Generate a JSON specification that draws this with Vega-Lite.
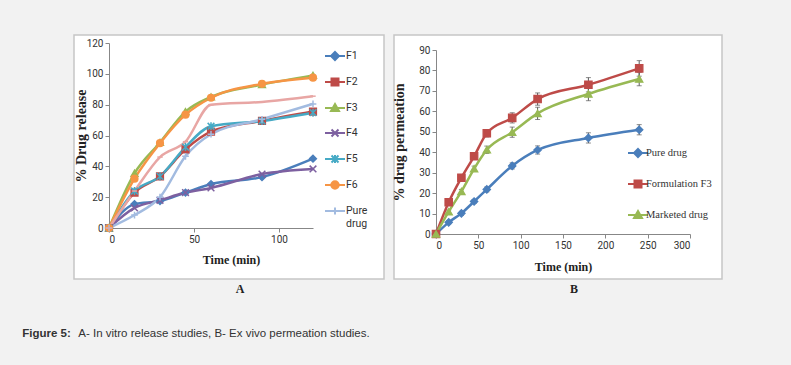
{
  "$schema": "https://vega.github.io/schema/vega-lite/v6.json",
  "background": "#f2f2f2",
  "autosize": {"type": "pad"},
  "padding": {"left": 22, "top": 34, "right": 74, "bottom": 26},
  "config": {
    "view": {"fill": "white", "stroke": "#c6c6c6", "strokeWidth": 1.5},
    "axis": {"grid": false, "domainColor": "#878787", "tickColor": "#878787", "tickSize": 4, "labelFont": "Roboto", "labelFontSize": 10, "labelColor": "#333333", "titleFont": "Liberation Serif", "titleFontSize": 12, "titleFontWeight": "bold", "titleColor": "#222222"},
    "axisY": {"titleFontSize": 14}
  },
  "title": {"text": "A- In vitro release studies, B- Ex vivo permeation studies.", "orient": "bottom", "anchor": "start", "font": "Liberation Sans", "fontSize": 11.5, "fontWeight": "normal", "color": "#333333", "offset": 0, "dx": 56, "dy": -11},
  "vconcat": [
    {
      "title": {"text": "Figure 5:", "orient": "bottom", "anchor": "start", "font": "Liberation Sans", "fontSize": 11.5, "fontWeight": "bold", "color": "#333333", "offset": 32, "dx": -51},
      "spacing": 6,
      "hconcat": [
        {
          "width": 310,
          "height": 244,
          "title": {"text": "A", "orient": "bottom", "font": "Liberation Serif", "fontSize": 12, "fontWeight": "bold", "color": "#222222", "offset": 5, "dx": 11},
          "data": {"values": [
            {"series": "F1", "time": 0, "release": 0}, {"series": "F1", "time": 15, "release": 15.5}, {"series": "F1", "time": 30, "release": 17.5}, {"series": "F1", "time": 45, "release": 23}, {"series": "F1", "time": 60, "release": 28.5}, {"series": "F1", "time": 90, "release": 33}, {"series": "F1", "time": 120, "release": 45},
            {"series": "F2", "time": 0, "release": 0}, {"series": "F2", "time": 15, "release": 23}, {"series": "F2", "time": 30, "release": 33.5}, {"series": "F2", "time": 45, "release": 51}, {"series": "F2", "time": 60, "release": 62.5}, {"series": "F2", "time": 90, "release": 69.5}, {"series": "F2", "time": 120, "release": 75.5},
            {"series": "F3", "time": 0, "release": 0}, {"series": "F3", "time": 15, "release": 35.5}, {"series": "F3", "time": 30, "release": 55.5}, {"series": "F3", "time": 45, "release": 75.5}, {"series": "F3", "time": 60, "release": 85}, {"series": "F3", "time": 90, "release": 93}, {"series": "F3", "time": 120, "release": 99},
            {"series": "F4", "time": 0, "release": 0}, {"series": "F4", "time": 15, "release": 13}, {"series": "F4", "time": 30, "release": 18}, {"series": "F4", "time": 45, "release": 23}, {"series": "F4", "time": 60, "release": 26}, {"series": "F4", "time": 90, "release": 35}, {"series": "F4", "time": 120, "release": 38.3},
            {"series": "F5", "time": 0, "release": 0}, {"series": "F5", "time": 15, "release": 24}, {"series": "F5", "time": 30, "release": 33.5}, {"series": "F5", "time": 45, "release": 52.5}, {"series": "F5", "time": 60, "release": 66}, {"series": "F5", "time": 90, "release": 69.4}, {"series": "F5", "time": 120, "release": 74.8},
            {"series": "F6", "time": 0, "release": 0}, {"series": "F6", "time": 15, "release": 32}, {"series": "F6", "time": 30, "release": 55}, {"series": "F6", "time": 45, "release": 73.5}, {"series": "F6", "time": 60, "release": 84.5}, {"series": "F6", "time": 90, "release": 93.5}, {"series": "F6", "time": 120, "release": 97.5},
            {"series": "Pure drug", "time": 0, "release": 0}, {"series": "Pure drug", "time": 15, "release": 8.4}, {"series": "Pure drug", "time": 30, "release": 20}, {"series": "Pure drug", "time": 45, "release": 46.5}, {"series": "Pure drug", "time": 60, "release": 60.8}, {"series": "Pure drug", "time": 90, "release": 70.5}, {"series": "Pure drug", "time": 120, "release": 80.5},
            {"series": "Unlabelled", "time": 0, "release": 0}, {"series": "Unlabelled", "time": 15, "release": 24}, {"series": "Unlabelled", "time": 30, "release": 46}, {"series": "Unlabelled", "time": 45, "release": 56}, {"series": "Unlabelled", "time": 60, "release": 80}, {"series": "Unlabelled", "time": 90, "release": 81.8}, {"series": "Unlabelled", "time": 120, "release": 85.5}
          ]},
          "encoding": {
            "x": {"field": "time", "type": "quantitative", "scale": {"domain": [0, 120], "range": [35, 239], "nice": false}, "axis": {"values": [0, 50, 100], "title": "Time (min)", "offset": -51, "titleX": 157, "titlePadding": 10}},
            "y": {"field": "release", "type": "quantitative", "scale": {"domain": [0, 120], "range": [193, 8], "nice": false}, "axis": {"values": [0, 20, 40, 60, 80, 100, 120], "title": "% Drug release", "offset": -35, "titleX": -21}}
          },
          "layer": [
            {
              "mark": {"type": "line", "interpolate": "monotone", "strokeWidth": 2.5},
              "encoding": {"stroke": {"field": "series", "type": "nominal", "legend": null, "scale": {"domain": ["F1", "F2", "F3", "F4", "F5", "F6", "Pure drug", "Unlabelled"], "range": ["#4A7EBB", "#BE4B48", "#98B954", "#7D60A0", "#46AAC5", "#F69545", "#A2BBE0", "#E8A6A4"]}}}
            },
            {
              "mark": {"type": "point", "filled": true, "size": 45, "strokeWidth": 1.5, "opacity": 1},
              "encoding": {
                "fill": {"field": "series", "type": "nominal", "legend": null, "scale": {"domain": ["F1", "F2", "F3", "F4", "F5", "F6", "Pure drug", "Unlabelled"], "range": ["#4A7EBB", "#BE4B48", "#98B954", "#7D60A0", "#46AAC5", "#F69545", "#A2BBE0", "#E8A6A4"]}},
                "stroke": {"field": "series", "type": "nominal", "legend": null, "scale": {"domain": ["F1", "F2", "F3", "F4", "F5", "F6", "Pure drug", "Unlabelled"], "range": ["#4A7EBB", "#BE4B48", "#98B954", "#7D60A0", "#46AAC5", "#F69545", "#A2BBE0", "#E8A6A4"]}},
                "shape": {"field": "series", "type": "nominal", "legend": null, "scale": {"domain": ["F1", "F2", "F3", "F4", "F5", "F6", "Pure drug", "Unlabelled"], "range": ["diamond", "square", "triangle-up", "M-1,-1L1,1M-1,1L1,-1", "M-1,-1L1,1M-1,1L1,-1M0,-1.2V1.2", "circle", "M-1,0H1M0,-1V1", "M-0.8,0H0.8"]}}
              }
            },
            {
              "transform": [{"filter": "false"}],
              "mark": {"type": "point", "filled": true, "opacity": 1},
              "encoding": {
                "fill": {"field": "series", "type": "nominal", "scale": {"domain": ["F1", "F2", "F3", "F4", "F5", "F6", "Pure drug", "Unlabelled"], "range": ["#4A7EBB", "#BE4B48", "#98B954", "#7D60A0", "#46AAC5", "#F69545", "#A2BBE0", "#E8A6A4"]},
                  "legend": {"orient": "none", "legendX": 255, "legendY": 15, "title": null, "values": ["F1", "F2", "F3", "F4", "F5", "F6", "Pure drug"], "symbolSize": 100, "symbolStrokeWidth": 2, "symbolOpacity": 1, "labelFont": "Roboto", "labelFontSize": 10.5, "labelColor": "#333333", "rowPadding": 10, "labelOffset": 5, "padding": 0, "labelExpr": "datum.label == 'Pure drug' ? ['Pure', 'drug'] : datum.label"}},
                "stroke": {"field": "series", "type": "nominal", "scale": {"domain": ["F1", "F2", "F3", "F4", "F5", "F6", "Pure drug", "Unlabelled"], "range": ["#4A7EBB", "#BE4B48", "#98B954", "#7D60A0", "#46AAC5", "#F69545", "#A2BBE0", "#E8A6A4"]},
                  "legend": {"orient": "none", "legendX": 255, "legendY": 15, "title": null, "values": ["F1", "F2", "F3", "F4", "F5", "F6", "Pure drug"], "symbolSize": 100, "symbolStrokeWidth": 2, "symbolOpacity": 1, "labelFont": "Roboto", "labelFontSize": 10.5, "labelColor": "#333333", "rowPadding": 10, "labelOffset": 5, "padding": 0, "labelExpr": "datum.label == 'Pure drug' ? ['Pure', 'drug'] : datum.label"}},
                "shape": {"field": "series", "type": "nominal", "scale": {"domain": ["F1", "F2", "F3", "F4", "F5", "F6", "Pure drug", "Unlabelled"], "range": ["M-2,0H2M0,-0.8L0.8,0L0,0.8L-0.8,0Z", "M-2,0H2M-0.7,-0.7H0.7V0.7H-0.7Z", "M-2,0H2M0,-0.8L0.8,0.6H-0.8Z", "M-2,0H2M-0.7,-0.7L0.7,0.7M-0.7,0.7L0.7,-0.7", "M-2,0H2M-0.7,-0.7L0.7,0.7M-0.7,0.7L0.7,-0.7M0,-0.8V0.8", "M-2,0H2M0.75,0A0.75,0.75,0,1,1,-0.75,0A0.75,0.75,0,1,1,0.75,0Z", "M-2,0H2M0,-0.7V0.7", "M-2,0H2"]},
                  "legend": {"orient": "none", "legendX": 255, "legendY": 15, "title": null, "values": ["F1", "F2", "F3", "F4", "F5", "F6", "Pure drug"], "symbolSize": 100, "symbolStrokeWidth": 2, "symbolOpacity": 1, "labelFont": "Roboto", "labelFontSize": 10.5, "labelColor": "#333333", "rowPadding": 10, "labelOffset": 5, "padding": 0, "labelExpr": "datum.label == 'Pure drug' ? ['Pure', 'drug'] : datum.label"}}
              }
            }
          ],
          "resolve": {"scale": {"fill": "independent", "stroke": "independent", "shape": "independent"}}
        },
        {
          "width": 328,
          "height": 244,
          "title": {"text": "B", "orient": "bottom", "font": "Liberation Serif", "fontSize": 12, "fontWeight": "bold", "color": "#222222", "offset": 5, "dx": 16},
          "data": {"values": [
            {"series": "Pure drug", "time": 0, "permeation": 0, "err": 0}, {"series": "Pure drug", "time": 15, "permeation": 5.7, "err": 0.8}, {"series": "Pure drug", "time": 30, "permeation": 10.1, "err": 1}, {"series": "Pure drug", "time": 45, "permeation": 15.9, "err": 1}, {"series": "Pure drug", "time": 60, "permeation": 21.8, "err": 1.2}, {"series": "Pure drug", "time": 90, "permeation": 33.3, "err": 1.5}, {"series": "Pure drug", "time": 120, "permeation": 41.1, "err": 2}, {"series": "Pure drug", "time": 180, "permeation": 47, "err": 2.5}, {"series": "Pure drug", "time": 240, "permeation": 51, "err": 2.5},
            {"series": "Formulation F3", "time": 0, "permeation": 0, "err": 0}, {"series": "Formulation F3", "time": 15, "permeation": 15.5, "err": 1}, {"series": "Formulation F3", "time": 30, "permeation": 27.5, "err": 1.2}, {"series": "Formulation F3", "time": 45, "permeation": 38, "err": 1.5}, {"series": "Formulation F3", "time": 60, "permeation": 49.3, "err": 1.8}, {"series": "Formulation F3", "time": 90, "permeation": 56.8, "err": 2.5}, {"series": "Formulation F3", "time": 120, "permeation": 66, "err": 3}, {"series": "Formulation F3", "time": 180, "permeation": 73, "err": 3.5}, {"series": "Formulation F3", "time": 240, "permeation": 81, "err": 3.8},
            {"series": "Marketed drug", "time": 0, "permeation": 0, "err": 0}, {"series": "Marketed drug", "time": 15, "permeation": 10.9, "err": 0.8}, {"series": "Marketed drug", "time": 30, "permeation": 20.8, "err": 1}, {"series": "Marketed drug", "time": 45, "permeation": 31.9, "err": 1.3}, {"series": "Marketed drug", "time": 60, "permeation": 41.2, "err": 1.8}, {"series": "Marketed drug", "time": 90, "permeation": 49.8, "err": 2.5}, {"series": "Marketed drug", "time": 120, "permeation": 59, "err": 3}, {"series": "Marketed drug", "time": 180, "permeation": 68.5, "err": 3.3}, {"series": "Marketed drug", "time": 240, "permeation": 75.8, "err": 3.3}
          ]},
          "encoding": {
            "x": {"field": "time", "type": "quantitative", "scale": {"domain": [0, 300], "range": [42, 296], "nice": false}, "axis": {"values": [0, 50, 100, 150, 200, 250, 300], "title": "Time (min)", "offset": -45, "titlePadding": 11}},
            "y": {"field": "permeation", "type": "quantitative", "scale": {"domain": [0, 90], "range": [199, 15], "nice": false}, "axis": {"values": [0, 10, 20, 30, 40, 50, 60, 70, 80, 90], "title": "% drug permeation", "offset": -42, "titleX": -30}}
          },
          "layer": [
            {
              "mark": {"type": "errorbar", "ticks": true, "color": "#5a5a5a", "thickness": 1},
              "encoding": {
                "yError": {"field": "err"}
              }
            },
            {
              "mark": {"type": "line", "interpolate": "monotone", "strokeWidth": 2.5},
              "encoding": {
                "stroke": {"field": "series", "type": "nominal", "legend": null, "scale": {"domain": ["Pure drug", "Formulation F3", "Marketed drug"], "range": ["#4A7EBB", "#BE4B48", "#98B954"]}}
              }
            },
            {
              "mark": {"type": "point", "filled": true, "size": 55, "strokeWidth": 1.2, "opacity": 1},
              "encoding": {
                "fill": {"field": "series", "type": "nominal", "legend": null, "scale": {"domain": ["Pure drug", "Formulation F3", "Marketed drug"], "range": ["#4A7EBB", "#BE4B48", "#98B954"]}},
                "stroke": {"field": "series", "type": "nominal", "legend": null, "scale": {"domain": ["Pure drug", "Formulation F3", "Marketed drug"], "range": ["#4A7EBB", "#BE4B48", "#98B954"]}},
                "shape": {"field": "series", "type": "nominal", "legend": null, "scale": {"domain": ["Pure drug", "Formulation F3", "Marketed drug"], "range": ["diamond", "square", "triangle-up"]}}
              }
            },
            {
              "transform": [{"filter": "false"}],
              "mark": {"type": "point", "filled": true, "opacity": 1},
              "encoding": {
                "fill": {"field": "series", "type": "nominal", "scale": {"domain": ["Pure drug", "Formulation F3", "Marketed drug"], "range": ["#4A7EBB", "#BE4B48", "#98B954"]},
                  "legend": {"orient": "none", "legendX": 238, "legendY": 112, "title": null, "symbolSize": 100, "symbolStrokeWidth": 2, "symbolOpacity": 1, "labelFont": "Liberation Serif", "labelFontSize": 10.5, "labelColor": "#333333", "rowPadding": 15, "labelOffset": 2, "padding": 0}},
                "stroke": {"field": "series", "type": "nominal", "scale": {"domain": ["Pure drug", "Formulation F3", "Marketed drug"], "range": ["#4A7EBB", "#BE4B48", "#98B954"]},
                  "legend": {"orient": "none", "legendX": 238, "legendY": 112, "title": null, "symbolSize": 100, "symbolStrokeWidth": 2, "symbolOpacity": 1, "labelFont": "Liberation Serif", "labelFontSize": 10.5, "labelColor": "#333333", "rowPadding": 15, "labelOffset": 2, "padding": 0}},
                "shape": {"field": "series", "type": "nominal", "scale": {"domain": ["Pure drug", "Formulation F3", "Marketed drug"], "range": ["M-2,0H2M0,-0.8L0.8,0L0,0.8L-0.8,0Z", "M-2,0H2M-0.7,-0.7H0.7V0.7H-0.7Z", "M-2,0H2M0,-0.8L0.8,0.6H-0.8Z"]},
                  "legend": {"orient": "none", "legendX": 238, "legendY": 112, "title": null, "symbolSize": 100, "symbolStrokeWidth": 2, "symbolOpacity": 1, "labelFont": "Liberation Serif", "labelFontSize": 10.5, "labelColor": "#333333", "rowPadding": 15, "labelOffset": 2, "padding": 0}}
              }
            }
          ],
          "resolve": {"scale": {"fill": "independent", "stroke": "independent", "shape": "independent"}}
        }
      ]
    }
  ]
}
